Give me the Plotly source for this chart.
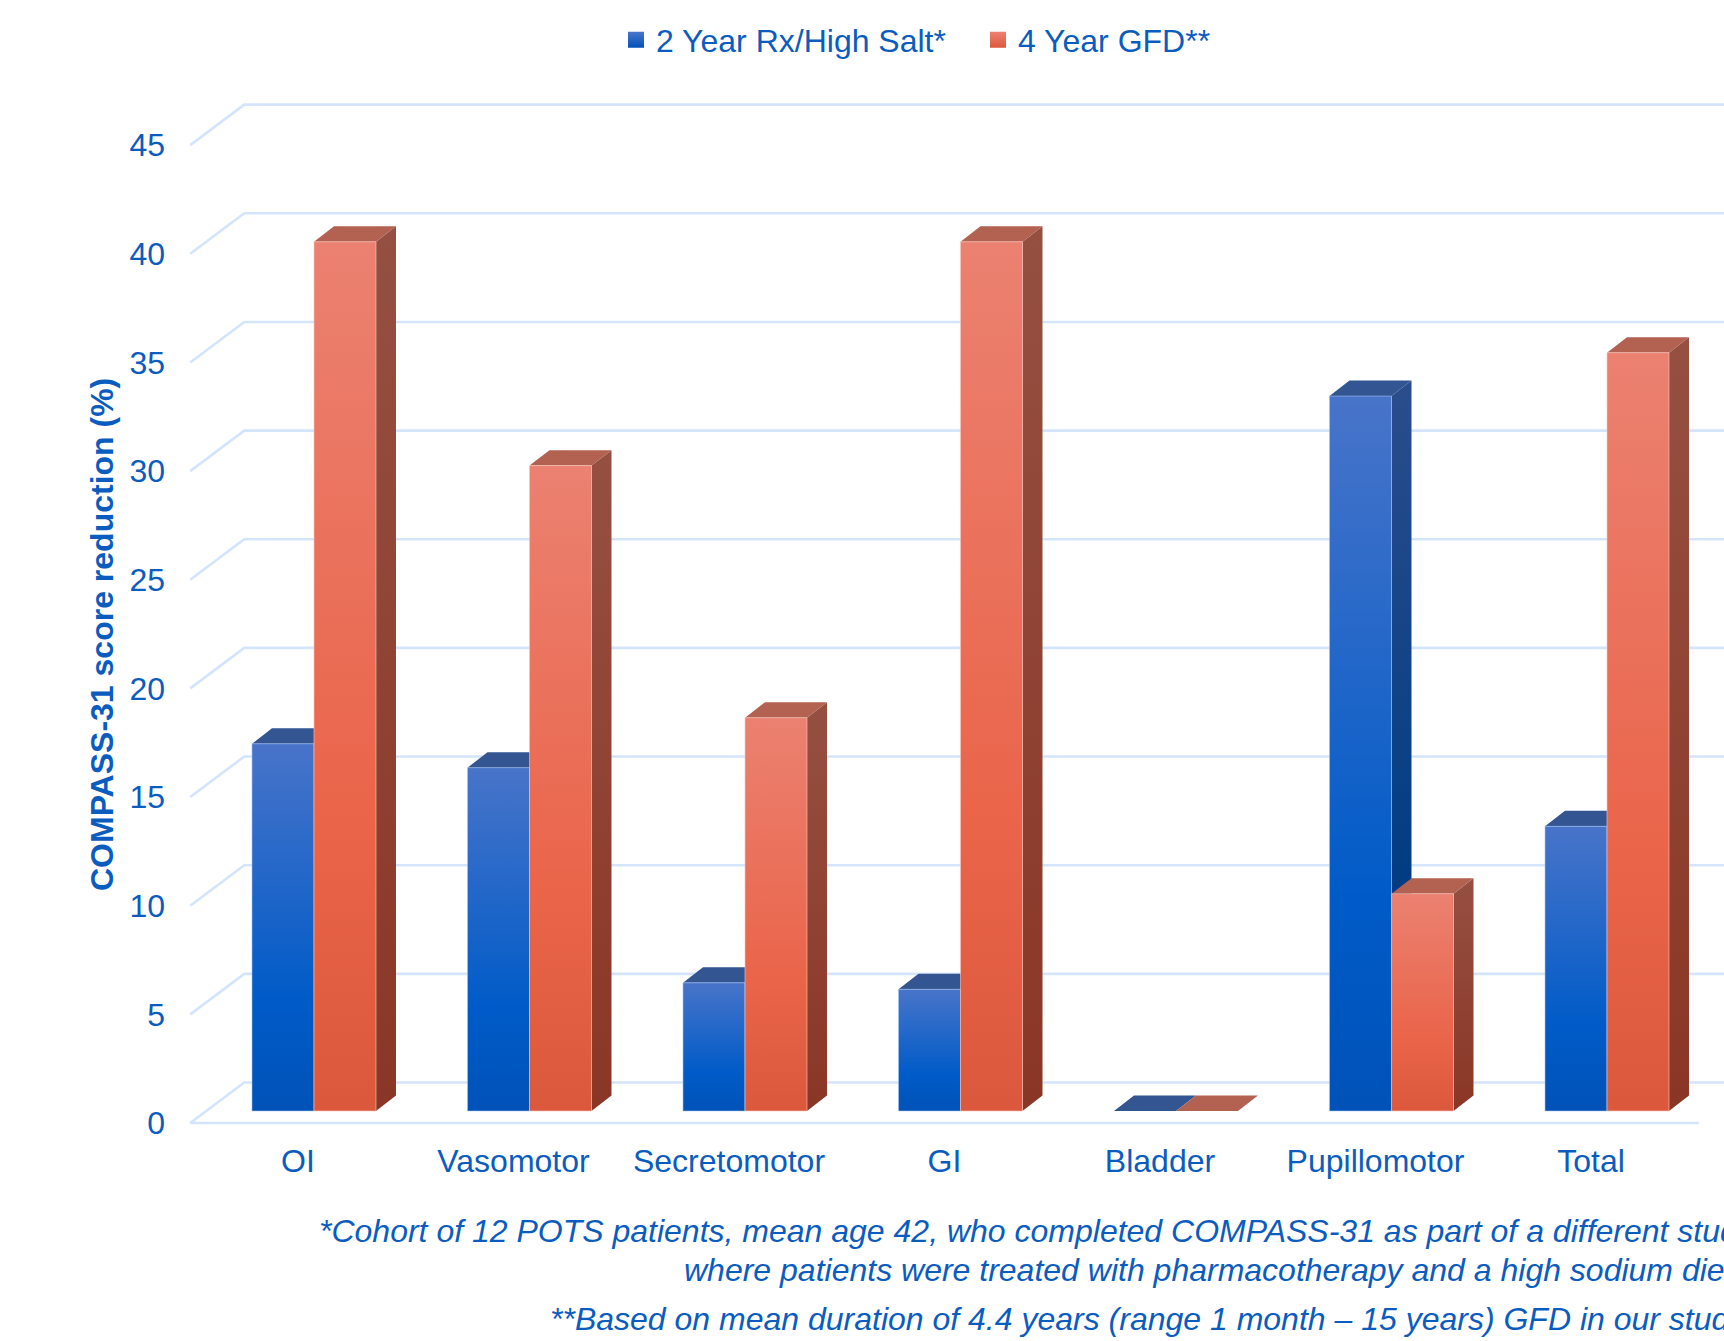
import plotly.graph_objects as go

# ---- data -------------------------------------------------------------
CATEGORIES = ["OI", "Vasomotor", "Secretomotor", "GI", "Bladder", "Pupillomotor", "Total"]
RX_HIGH_SALT = [16.9, 15.8, 5.9, 5.6, 0, 32.9, 13.1]      # 2 Year Rx/High Salt*
GFD_4YEAR = [40, 29.7, 18.1, 40, 0, 10, 34.9]              # 4 Year GFD**
Y_TICKS = [0, 5, 10, 15, 20, 25, 30, 35, 40, 45]
SERIES_NAMES = ["2 Year Rx/High Salt*", "4 Year GFD**"]
FOOTNOTES = [
    "*Cohort of 12 POTS patients, mean age 42, who completed COMPASS-31 as part of a different study",
    "where patients were treated with pharmacotherapy and a high sodium diet)",
    "**Based on mean duration of 4.4 years (range 1 month \u2013 15 years) GFD in our study",
]

# ---- page / axis geometry ---------------------------------------------
W, H = 1724, 1341
M_L, M_R, M_T, M_B = 166, 0, 80, 204
PX_PER_CAT = 215.5          # horizontal pixels per category
PX_PER_UNIT = 21.73         # vertical pixels per value unit
CAT0_PX = 298               # pixel x of first category on the front edge
ZERO_PX = 1123              # pixel y of value 0 on the front edge

x_range = [(M_L - CAT0_PX) / PX_PER_CAT, (W - M_R - CAT0_PX) / PX_PER_CAT]
y_range = [(ZERO_PX - (H - M_B)) / PX_PER_UNIT, (ZERO_PX - M_T) / PX_PER_UNIT]

# 3-D look: floor/back-wall depth and bar depth, in axis units
FLOOR_DX, FLOOR_DY = 0.2506, 1.864
BAR_X0, BAR_Y0 = 0.0742, 0.552
BAR_DX, BAR_DY = 0.0928, 0.713
BAR_W = 0.2877
X_LEFT, X_RIGHT = -0.5, len(CATEGORIES) - 0.5

TEXT_BLUE = "#0B5CBF"
GRID = "#D4E5FB"
FONT = "Liberation Sans, Arial, sans-serif"
FS = 32

STYLES = [
    dict(front=[[0, "#0052B8"], [0.3, "#005BC8"], [1, "#4874C9"]],
         side=[[0, "#003A7E"], [0.3, "#003C82"], [1, "#2B4D8C"]],
         top="#335591", edge="rgba(170,200,245,0.55)",
         legend=("#4A76CA", "#0052B8")),
    dict(front=[[0, "#DC583C"], [0.35, "#EA654A"], [1, "#EB8171"]],
         side=[[0, "#8A3626"], [1, "#955041"]],
         top="#B36151", edge="rgba(250,200,190,0.6)",
         legend=("#EC8271", "#DC583C")),
]


def px_x(px):
    return (px - M_L) / (W - M_L - M_R)


def px_y(py):
    return (H - M_B - py) / (H - M_T - M_B)


fig = go.Figure()

# ---- floor, back wall gridlines -----------------------------------------
gx, gy = [], []
for v in Y_TICKS:
    gx += [X_LEFT, X_LEFT + FLOOR_DX, X_RIGHT + FLOOR_DX, None]
    gy += [v, v + FLOOR_DY, v + FLOOR_DY, None]
gx += [X_LEFT, X_RIGHT, None]
gy += [0, 0, None]
fig.add_trace(go.Scatter(x=gx, y=gy, mode="lines", line=dict(color=GRID, width=2.6),
                         hoverinfo="skip", showlegend=False))

# ---- 3-D bars -----------------------------------------------------------
series = [RX_HIGH_SALT, GFD_4YEAR]
for i, cat in enumerate(CATEGORIES):
    for s, values in enumerate(series):
        st = STYLES[s]
        v = values[i]
        x0 = i + BAR_X0 - (BAR_W if s == 0 else 0)
        x1 = x0 + BAR_W
        yb, yt = BAR_Y0, BAR_Y0 + v
        # right side face
        fig.add_trace(go.Scatter(
            x=[x1, x1 + BAR_DX, x1 + BAR_DX, x1, x1],
            y=[yb, yb + BAR_DY, yt + BAR_DY, yt, yb],
            mode="lines", line=dict(width=0), fill="toself",
            fillgradient=dict(type="vertical", colorscale=st["side"]),
            hoverinfo="skip", showlegend=False))
        # top face
        fig.add_trace(go.Scatter(
            x=[x0, x1, x1 + BAR_DX, x0 + BAR_DX, x0],
            y=[yt, yt, yt + BAR_DY, yt + BAR_DY, yt],
            mode="lines", line=dict(width=0), fill="toself", fillcolor=st["top"],
            hoverinfo="skip", showlegend=False))
        # front face
        if v > 0:
            fig.add_trace(go.Scatter(
                x=[x0, x1, x1, x0, x0],
                y=[yb, yb, yt, yt, yb],
                mode="lines", line=dict(width=1, color=st["edge"]), fill="toself",
                fillgradient=dict(type="vertical", colorscale=st["front"]),
                name=SERIES_NAMES[s], hovertemplate=f"{cat}: {v}<extra>{SERIES_NAMES[s]}</extra>",
                showlegend=False))

# ---- legend entries -------------------------------------------------------
for s, name in enumerate(SERIES_NAMES):
    c_top, c_bot = STYLES[s]["legend"]
    fig.add_trace(go.Scatter(
        x=[None], y=[None], mode="markers", name=name,
        marker=dict(symbol="square", size=17, color=c_top, line=dict(width=0),
                    gradient=dict(type="vertical", color=c_bot))))

# ---- text -------------------------------------------------------------
annotations = [
    dict(text="<b>COMPASS-31 score reduction (%)</b>", textangle=-90,
         x=px_x(102), y=px_y(635), xref="paper", yref="paper",
         xanchor="center", yanchor="middle", showarrow=False,
         font=dict(size=FS, color=TEXT_BLUE, family=FONT)),
]
for text, (lx, ly) in zip(FOOTNOTES, [(317, 1231), (682, 1270), (548, 1319)]):
    annotations.append(dict(
        text=f"<i>{text}</i>", x=px_x(lx), y=px_y(ly), xref="paper", yref="paper",
        xanchor="left", yanchor="middle", showarrow=False,
        font=dict(size=FS, color=TEXT_BLUE, family=FONT)))

fig.update_layout(
    width=W, height=H,
    margin=dict(l=M_L, r=M_R, t=M_T, b=M_B, pad=0, autoexpand=False),
    paper_bgcolor="white", plot_bgcolor="white",
    font=dict(family=FONT, size=FS, color=TEXT_BLUE),
    showlegend=True,
    legend=dict(orientation="h", x=px_x(616), y=px_y(40), xanchor="left", yanchor="middle",
                font=dict(size=FS, color=TEXT_BLUE, family=FONT),
                bgcolor="rgba(0,0,0,0)", borderwidth=0, itemclick=False,
                itemdoubleclick=False, traceorder="normal",
                entrywidth=317, entrywidthmode="pixels"),
    xaxis=dict(range=x_range, tickmode="array", tickvals=list(range(len(CATEGORIES))),
               ticktext=CATEGORIES, showgrid=False, zeroline=False, showline=False,
               ticks="", ticklabelstandoff=2, automargin=False, fixedrange=True,
               tickfont=dict(size=FS, color=TEXT_BLUE, family=FONT)),
    yaxis=dict(range=y_range, tickmode="array", tickvals=Y_TICKS,
               ticktext=[str(t) for t in Y_TICKS], showgrid=False, zeroline=False,
               showline=False, ticks="", automargin=False, fixedrange=True,
               tickfont=dict(size=FS, color=TEXT_BLUE, family=FONT)),
    annotations=annotations,
)

fig.write_html("out.html")
